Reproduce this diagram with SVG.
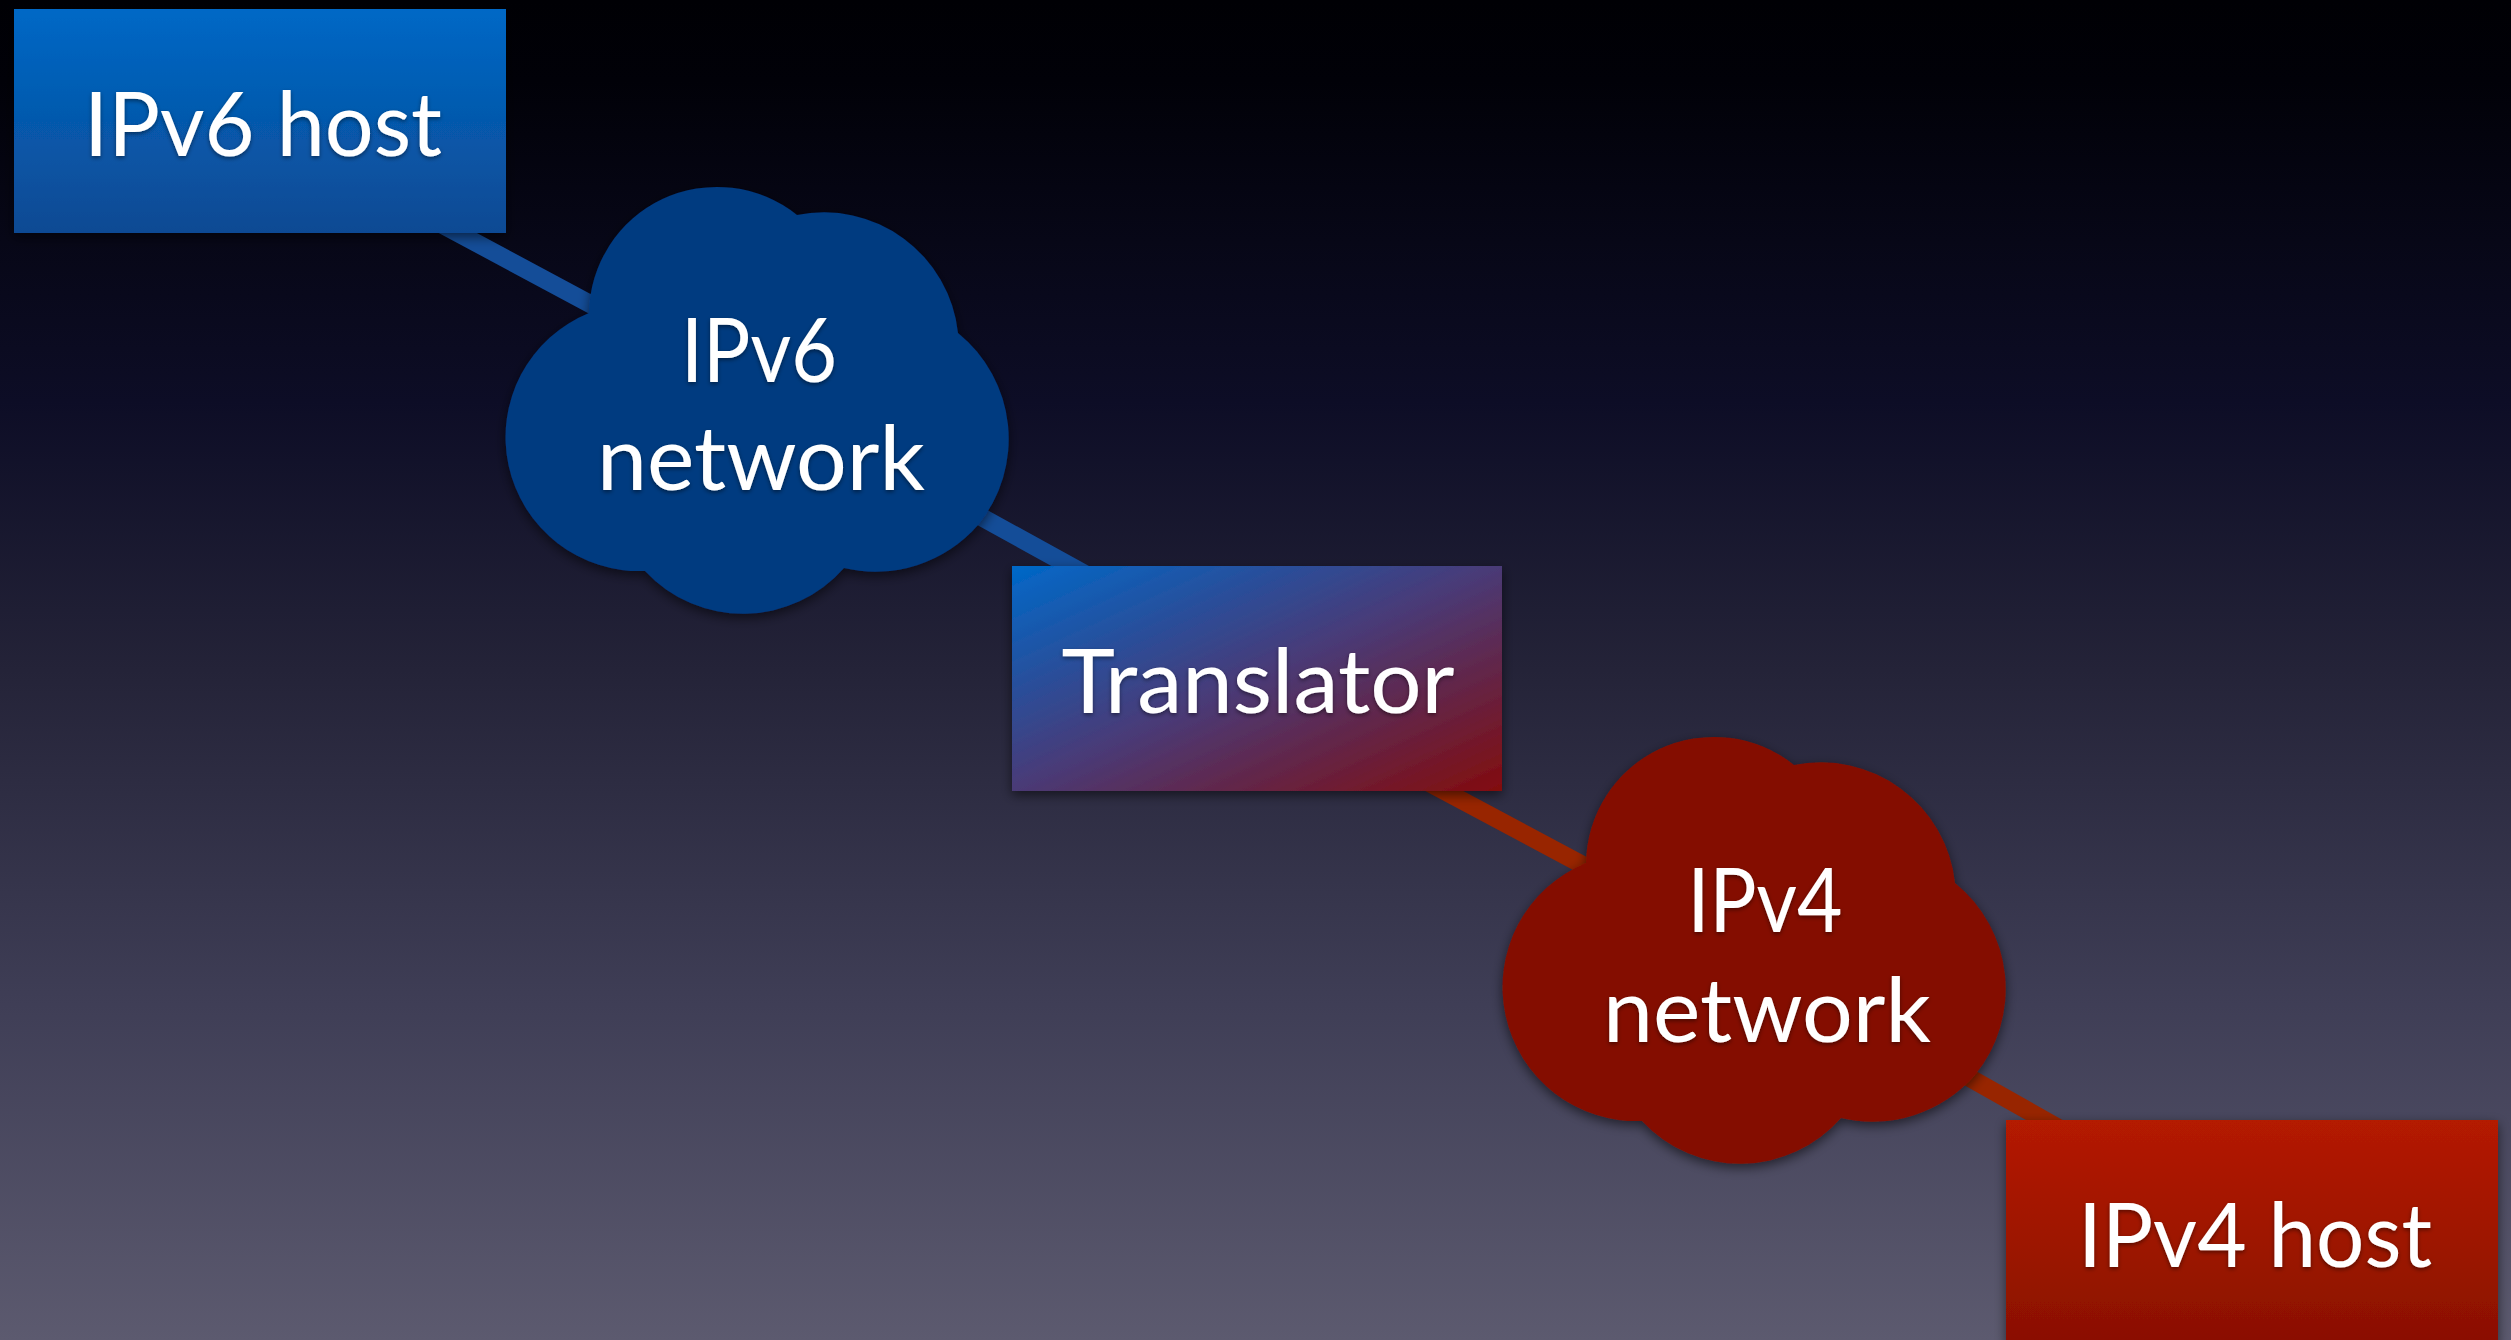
<svg xmlns="http://www.w3.org/2000/svg" width="2511" height="1340" viewBox="0 0 2511 1340">
  <defs>
    <linearGradient id="bg" x1="0" y1="0" x2="0" y2="1">
      <stop offset="0" stop-color="#000004"/>
      <stop offset="0.06" stop-color="#010108"/>
      <stop offset="0.3" stop-color="#0d0d26"/>
      <stop offset="0.5" stop-color="#242338"/>
      <stop offset="0.75" stop-color="#3f3e56"/>
      <stop offset="1" stop-color="#5c5a6f"/>
    </linearGradient>
    <linearGradient id="g6" x1="0" y1="0" x2="0" y2="1">
      <stop offset="0" stop-color="#0068c6"/>
      <stop offset="1" stop-color="#0c4a93"/>
    </linearGradient>
    <linearGradient id="g4" x1="0" y1="0" x2="0" y2="1">
      <stop offset="0" stop-color="#b41a04"/>
      <stop offset="1" stop-color="#8a1006"/>
    </linearGradient>
    <linearGradient id="gt" x1="0" y1="0" x2="1" y2="1">
      <stop offset="0" stop-color="#0068c8"/>
      <stop offset="0.5" stop-color="#4a3a76"/>
      <stop offset="1" stop-color="#820c0e"/>
    </linearGradient>
    <filter id="sh" x="-10%" y="-10%" width="120%" height="125%">
      <feDropShadow dx="0" dy="4" stdDeviation="6" flood-color="#000" flood-opacity="0.55"/>
    </filter>
    <filter id="tsh" x="-5%" y="-10%" width="110%" height="130%">
      <feDropShadow dx="0" dy="2" stdDeviation="2" flood-color="#000" flood-opacity="0.45"/>
    </filter>
    <path id="cloud" d="M589,313 A128,128 0 0 1 797,215 A135,135 0 0 1 958,333 A136,136 0 0 1 978,525 A136,136 0 0 1 844,568 A134,134 0 0 1 645,571 A134,134 0 0 1 589,313 Z"/>
  </defs>
  <style>
    .lbl { font-family: "Lato", "Open Sans", "Liberation Sans", sans-serif; font-size: 90px; fill: #ffffff; text-anchor: middle; filter: url(#tsh); }
    .c6 { stroke: #144d98; stroke-width: 18; fill: none; }
    .c4 { stroke: #982500; stroke-width: 18; fill: none; }
  </style>
  <rect x="0" y="0" width="2511" height="1340" fill="url(#bg)"/>

  <g id="connectors">
    <polyline class="c6" points="260,127 760,395 1257,669"/>
    <polyline class="c4" points="1257,691 1757,958 2252,1237"/>
  </g>

  <g id="ipv6-host">
    <rect x="14" y="9" width="492" height="224" fill="url(#g6)" filter="url(#sh)"/>
    <text class="lbl" x="263" y="156" textLength="358" lengthAdjust="spacingAndGlyphs">IPv6 host</text>
  </g>

  <g id="ipv6-network">
    <use href="#cloud" fill="#003a80" filter="url(#sh)"/>
    <text class="lbl" x="759" y="382" textLength="156" lengthAdjust="spacingAndGlyphs">IPv6</text>
    <text class="lbl" x="761" y="490" textLength="328" lengthAdjust="spacingAndGlyphs">network</text>
  </g>

  <g id="translator">
    <rect x="1012" y="566" width="490" height="225" fill="url(#gt)" filter="url(#sh)"/>
    <text class="lbl" x="1258" y="713" textLength="393" lengthAdjust="spacingAndGlyphs">Translator</text>
  </g>

  <g id="ipv4-network">
    <use href="#cloud" transform="translate(997,550)" fill="#841000" filter="url(#sh)"/>
    <text class="lbl" x="1765" y="932" textLength="155" lengthAdjust="spacingAndGlyphs">IPv4</text>
    <text class="lbl" x="1767" y="1042" textLength="328" lengthAdjust="spacingAndGlyphs">network</text>
  </g>

  <g id="ipv4-host">
    <rect x="2006" y="1120" width="492" height="224" fill="url(#g4)" filter="url(#sh)"/>
    <text class="lbl" x="2255" y="1267" textLength="354" lengthAdjust="spacingAndGlyphs">IPv4 host</text>
  </g>
</svg>
